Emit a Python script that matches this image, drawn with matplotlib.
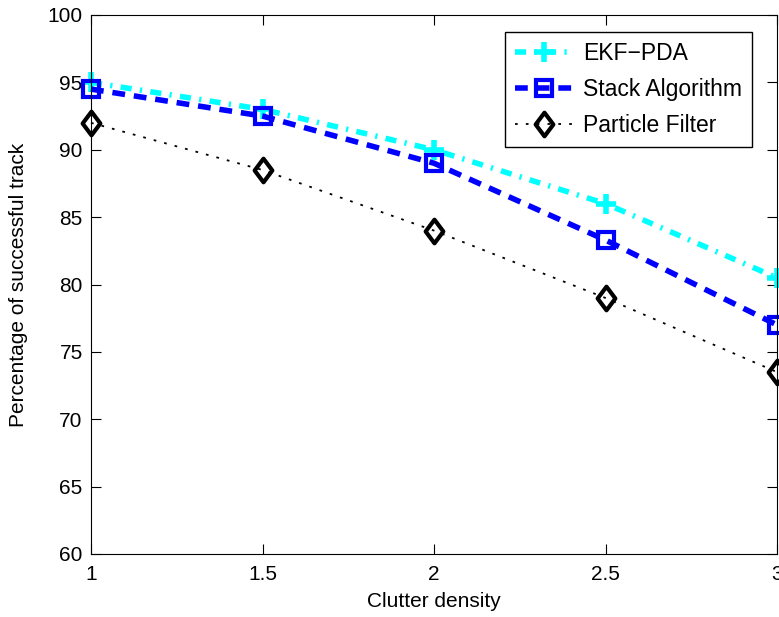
import matplotlib.pyplot as plt
from matplotlib.path import Path

# datos
density = [1, 1.5, 2, 2.5, 3]
ekf_pda = [95, 93, 90, 86, 80.5]
stack_alg = [94.5, 92.5, 89, 83.3, 77]
particle = [92, 88.5, 84, 79, 73.5]

plt.rcParams['font.family'] = ['Liberation Sans', 'DejaVu Sans']

# diamante estilo matlab
diamond = Path([(0, 1), (0.75, 0), (0, -1), (-0.75, 0), (0, 1)],
               [Path.MOVETO, Path.LINETO, Path.LINETO, Path.LINETO, Path.CLOSEPOLY])

fig = plt.figure(figsize=(7.79, 6.17), dpi=100)
ax = fig.add_axes([91 / 779, 1 - 554 / 617, 686 / 779, 539 / 617])

ax.plot(density, ekf_pda, color='cyan', linestyle=(0, (2, 1.5, 0.4, 1.5)), linewidth=4,
        marker='+', markersize=14, markeredgewidth=4, label='EKF\u2212PDA', clip_on=False)
ax.plot(density, stack_alg, color='blue', linestyle=(0, (2.3, 1.6)), linewidth=4,
        marker='s', markersize=12, markeredgewidth=3, markerfacecolor='none',
        label='Stack Algorithm', clip_on=False)
ax.plot(density, particle, color='black', linestyle=(0, (1.5, 4.5)), linewidth=1.3,
        marker=diamond, markersize=17, markeredgewidth=3, markerfacecolor='none',
        label='Particle Filter', clip_on=False)

ax.set_xlim(1, 3)
ax.set_ylim(60, 100)
ax.set_xticks([1, 1.5, 2, 2.5, 3])
ax.set_xticklabels(['1', '1.5', '2', '2.5', '3'])
ax.set_yticks(range(60, 101, 5))
ax.tick_params(direction='in', length=7, labelsize=15, top=True, right=True)
ax.tick_params(axis='x', pad=8)
ax.tick_params(axis='y', pad=6)
ax.set_xlabel('Clutter density', fontsize=15)
ax.set_ylabel('Percentage of successful track', fontsize=15)
ax.xaxis.set_label_coords(0.5, -0.07)
ax.yaxis.set_label_coords(-0.092, 0.5)

leg = ax.legend(loc='upper right', fontsize=16.5, fancybox=False, edgecolor='black',
                framealpha=1, handlelength=2.5, handletextpad=0.45, labelspacing=0.55,
                borderpad=0.45, borderaxespad=0, bbox_to_anchor=(1 - 25 / 686, 1 - 17 / 539))
leg.get_frame().set_linewidth(1)

fig.savefig('out.png', dpi=100)
